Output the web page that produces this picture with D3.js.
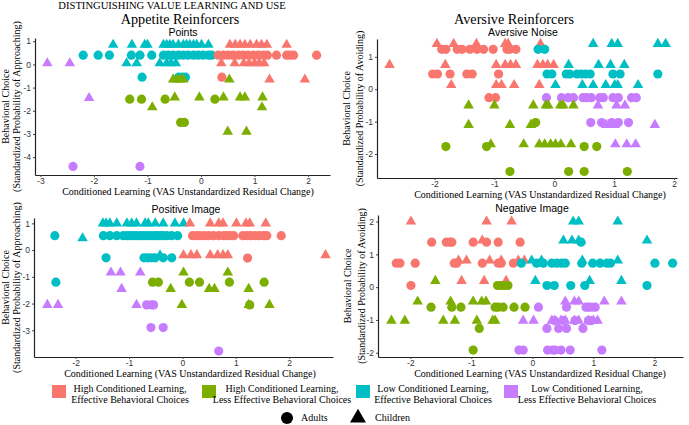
<!DOCTYPE html>
<html><head><meta charset="utf-8">
<script src="https://cdn.jsdelivr.net/npm/d3@7"></script>
<style>body{margin:0;background:#fff}svg{display:block}</style>
</head><body><svg id="c" width="689" height="425"></svg>
<script>
// groups: HE High/effective, HL High/less effective, LE Low/effective, LL Low/less effective
const groupNames = ["HE","HL","LE","LL"];
const groupColors = ["#F8766D","#7CAE00","#00BFC4","#C77CFF"];
const groupLabels = [["High Conditioned Learning,","Effective Behavioral Choices"],
  ["High Conditioned Learning,","Less Effective Behavioral Choices"],
  ["Low Conditioned Learning,","Effective Behavioral Choices"],
  ["Low Conditioned Learning,","Less Effective Behavioral Choices"]];
const ageLabels = ["Adults","Children"];

// each row: [learning, choice, group, age(A/C)]
const pointsData = [
 ...[-1.64,-1.29,-1.05,-1.0,-0.70,-0.64,-0.58,-0.52,-0.42,-0.33,-0.27,-0.21,-0.14,-0.08,0.01,0.14].map(x=>[x,0.85,"LE","C"]),
 ...[0.54,0.64,0.73,0.82,0.92,1.04,1.13,1.23,1.60].map(x=>[x,0.85,"HE","C"]),
 ...[-2.2,-1.92,-1.71,-1.30,-1.14,-0.92,-0.70,-0.61,-0.52,-0.42,-0.33,-0.24,-0.14,-0.05,0.04,0.14,0.2].map(x=>[x,0.4,"LE","A"]),
 ...[0.32,0.42,0.51,0.60,0.70,0.79,0.88,0.98,1.07,1.16,1.24,1.41,1.60,1.66,1.73,2.16].map(x=>[x,0.4,"HE","A"]),
 ...[-2.87,-2.45].map(x=>[x,0.05,"LL","C"]),
 ...[-1.39,-1.2,-0.77,-0.64,-0.56,-0.47].map(x=>[x,0.05,"LE","C"]),
 ...[0.38,0.63,0.80,0.90,1.0,1.09,1.18].map(x=>[x,0.05,"HE","C"]),
 ...[-1.1,-0.42,-0.35,-0.29].map(x=>[x,-0.55,"LE","A"]),
 [0.39,-0.55,"HE","A"],
 ...[-0.52,-0.45,-0.39,-0.33].map(x=>[x,-0.65,"HL","C"]),
 [0.53,-0.65,"HL","C"],
 ...[1.28,1.94].map(x=>[x,-0.65,"HE","C"]),
 [-2.09,-1.45,"LL","C"],
 ...[-1.33,-1.11,-0.67,0.26].map(x=>[x,-1.5,"HL","A"]),
 ...[-0.49,-0.03,0.42,0.73,0.82,1.15].map(x=>[x,-1.42,"HL","C"]),
 ...[-0.91,1.14].map(x=>[x,-1.85,"HL","C"]),
 ...[-0.38,-0.31].map(x=>[x,-2.5,"HL","A"]),
 ...[0.50,0.85].map(x=>[x,-2.9,"HL","C"]),
 ...[-2.39,-1.14].map(x=>[x,-4.4,"LL","A"])
];

const noiseData = [
 ...[-1.96,-1.68,-1.3,-0.82,-0.77,-0.23].map(x=>[x,1.4,"HE","C"]),
 ...[-1.88,-1.81,-1.62,-1.54,-1.41,-1.29,-1.18,-1.02,-0.79,-0.74,-0.64].map(x=>[x,1.23,"HE","A"]),
 ...[-0.27,-0.16].map(x=>[x,1.23,"LE","A"]),
 ...[0.65,0.96,1.06,1.73,1.86].map(x=>[x,1.4,"LE","C"]),
 ...[-2.75,-1.82,-0.97,-0.82,-0.73,-0.64,-0.28,-0.19,-0.11,-0.01].map(x=>[x,0.75,"HE","C"]),
 ...[0.24,0.74,0.94,1.17].map(x=>[x,0.75,"LE","C"]),
 ...[-2.03,-1.95,-1.74,-1.46,-1.37,-0.93].map(x=>[x,0.47,"HE","A"]),
 ...[-0.12,-0.04,0.2,0.26,0.38,0.45,0.52,0.6,0.98,1.1,1.73].map(x=>[x,0.47,"LE","A"]),
 ...[-1.72,-0.97,-0.88,-0.67,-0.25].map(x=>[x,0.13,"HE","C"]),
 ...[0.02,0.47,0.65,0.86,1.01,1.06,1.4].map(x=>[x,0.13,"LE","C"]),
 ...[-1.09,-0.98].map(x=>[x,-0.26,"HE","A"]),
 ...[-0.13,0.12,0.23,0.32,0.48,0.54,0.62,0.76,0.82,0.98,1.07,1.29,1.37].map(x=>[x,-0.26,"LL","A"]),
 ...[-1.43,-1.0,-0.35,-0.14,-0.1,0.1,0.15,0.32].map(x=>[x,-0.5,"HL","C"]),
 ...[0.73,1.04,1.18].map(x=>[x,-0.5,"LL","C"]),
 ...[0.61,0.79,0.96,1.07,1.24].map(x=>[x,-1.03,"LL","A"]),
 [-0.31,-1.03,"HL","A"],
 ...[-1.43,-0.74,-0.39].map(x=>[x,-1.1,"HL","C"]),
 ...[0.87,0.93,1.01,1.68].map(x=>[x,-1.1,"LL","C"]),
 ...[-1.81,-1.13,0.5,0.71].map(x=>[x,-1.77,"HL","A"]),
 ...[-1.06,-0.51,-0.25,-0.16,-0.06,0.02,0.11,0.28].map(x=>[x,-1.7,"HL","C"]),
 ...[1.02,1.21,1.36].map(x=>[x,-1.7,"LL","C"]),
 ...[-0.74,0.24,0.5,1.22].map(x=>[x,-2.54,"HL","A"])
];

const positiveData = [
 ...[-1.49,-1.43,-1.36,-1.23,-1.04,-0.95,-0.86,-0.7,-0.64,-0.51,-0.36,-0.14,0.02].map(x=>[x,1.0,"LE","C"]),
 ...[0.14,0.52,0.68,0.76,1.01,1.19,1.26,1.56].map(x=>[x,1.0,"HE","C"]),
 ...[-2.39,-1.48,-1.36,-1.23,-1.11,-1.04,-0.98,-0.92,-0.86,-0.79,-0.73,-0.67,-0.61,-0.54,-0.48,-0.42,-0.36,-0.29,-0.2,-0.09].map(x=>[x,0.54,"LE","A"]),
 ...[0.19,0.27,0.33,0.41,0.49,0.58,0.68,0.77,0.83,0.89,0.96,1.13,1.21,1.28,1.36,1.44,1.52,1.58,1.85].map(x=>[x,0.54,"HE","A"]),
 [-1.87,0.44,"LE","C"],
 ...[0.02,0.16,0.27,0.52,0.66,0.76,0.85,2.68].map(x=>[x,-0.19,"HE","C"]),
 ...[-1.43,-0.72,-0.65,-0.58,-0.51,-0.36,-0.2].map(x=>[x,-0.29,"LE","A"]),
 [-0.42,-0.2,"LE","C"],
 [1.22,-0.3,"HE","A"],
 ...[-1.34,-1.16,-0.79].map(x=>[x,-0.84,"LL","C"]),
 ...[0.02,0.85].map(x=>[x,-0.84,"HL","C"]),
 [-2.37,-1.2,"LE","A"],
 ...[-0.56,-0.45,0.13,0.32,0.88,1.53].map(x=>[x,-1.2,"HL","A"]),
 [-1.14,-1.45,"LL","C"],
 ...[-0.22,0.5,0.6,1.24].map(x=>[x,-1.45,"HL","C"]),
 ...[-2.53,-2.33,-0.86].map(x=>[x,-2.05,"LL","C"]),
 ...[-0.01,1.24,1.63].map(x=>[x,-2.05,"HL","C"]),
 [1.26,-2.05,"HL","A"],
 ...[-0.67,-0.58,-0.54].map(x=>[x,-2.05,"LL","A"]),
 ...[-0.59,-0.36].map(x=>[x,-2.9,"LL","A"]),
 [0.68,-3.78,"LL","A"]
];

const negativeData = [
 ...[-1.99,-0.75,-0.34].map(x=>[x,2.0,"HE","C"]),
 ...[0.67,0.76,1.40].map(x=>[x,2.0,"LE","C"]),
 ...[-1.65,-1.41,-1.35,-1.32,-0.97,-0.75,-0.56,-0.2].map(x=>[x,1.37,"HE","A"]),
 [-0.82,1.42,"HE","C"],
 ...[0.51,0.65,0.76,1.88].map(x=>[x,1.42,"LE","C"]),
 [0.8,1.37,"LE","A"],
 ...[-2.23,-2.17,-1.92,-1.28,-1.24,-0.82,-0.56,-0.51,-0.31].map(x=>[x,0.73,"HE","A"]),
 ...[-1.21,-1.08,-0.7,-0.51,-0.23,-0.13].map(x=>[x,0.81,"HE","C"]),
 ...[-0.18,0.07,0.18,0.32,0.4,0.48,0.54,0.81,0.99,1.11,1.22,1.28,2.01,2.3].map(x=>[x,0.73,"LE","A"]),
 ...[-0.01,0.15,0.82,1.4].map(x=>[x,0.81,"LE","C"]),
 [-1.99,0.05,"HE","A"],
 ...[-1.16,-0.79,-0.43].map(x=>[x,0.19,"HE","C"]),
 ...[-0.57,-0.51,-0.45,-0.4].map(x=>[x,0.05,"HL","A"]),
 [-1.59,0.19,"HL","C"],
 ...[0.05,0.94,1.46].map(x=>[x,0.19,"LE","C"]),
 ...[0.24,0.36,0.63,0.86,1.88].map(x=>[x,0.05,"LE","A"]),
 ...[-1.88,-1.34,-0.97,-0.83,-0.76].map(x=>[x,-0.44,"HL","C"]),
 ...[-1.66,-1.32,-1.17,-0.61,-0.56,-0.48,-0.3,-0.12].map(x=>[x,-0.61,"HL","A"]),
 ...[0.54,0.69,0.76,1.18,1.46].map(x=>[x,-0.44,"LL","C"]),
 ...[0.1,0.56,0.88,0.92,0.97,1.03].map(x=>[x,-0.61,"LL","A"]),
 ...[-2.31,-2.09,-1.46,-1.27,-0.91,-0.65,-0.61].map(x=>[x,-1.02,"HL","C"]),
 ...[-0.15,0.02,0.32,0.37,0.47,0.54,0.69,0.76,0.92,1.0,1.07].map(x=>[x,-1.02,"LL","C"]),
 ...[0.36,0.51,0.7,0.92,0.97].map(x=>[x,-1.02,"LL","A"]),
 [-0.87,-1.26,"HL","A"],
 ...[0.24,0.43,0.56,0.83].map(x=>[x,-1.26,"LL","A"]),
 [-0.97,-1.92,"HL","A"],
 ...[-0.22,-0.15,0.25,0.33,0.37,0.47,0.62,1.14].map(x=>[x,-1.92,"LL","A"])
];

const pointsYTicks = [1,0,-1,-2,-3,-4];
const noiseYTicks = [1,0,-1,-2];
const positiveYTicks = [1,0,-1,-2,-3];
const negativeYTicks = [2,1,0,-1,-2];
const pointsXTicks = [-3,-2,-1,0,1,2];
const noiseXTicks = [-2,-1,0,1,2];
const positiveXTicks = [-2,-1,0,1,2];
const negativeXTicks = [-2,-1,0,1,2];

const xTitle = "Conditioned Learning (VAS Unstandardized Residual Change)";

const panels = [
 {title:"Points", data:pointsData, xd:[-3.1,2.41], xr:[35,330], yd:[1.14,-4.77], yr:[38,175], xt:pointsXTicks, yt:pointsYTicks, yl:"(Standardized Probability of Approaching)", lx:[9,20], tx:183, ty:36, xtx:188},
 {title:"Aversive Noise", data:noiseData, xd:[-2.96,2.05], xr:[377,677], yd:[1.55,-2.74], yr:[39,178], xt:noiseXTicks, yt:noiseYTicks, yl:"(Standardized Probability of Avoiding)", lx:[350,363], tx:523, ty:36, xtx:540},
 {title:"Positive Image", data:positiveData, xd:[-2.78,2.82], xr:[34,333], yd:[1.2,-4.0], yr:[218,357], xt:positiveXTicks, yt:positiveYTicks, yl:"(Standardized Probability of Approaching)", lx:[9,20], tx:186, ty:213, xtx:190},
 {title:"Negative Image", data:negativeData, xd:[-2.53,2.47], xr:[378,683], yd:[2.2,-2.13], yr:[215,357], xt:negativeXTicks, yt:negativeYTicks, yl:"(Standardized Probability of Avoiding)", lx:[351,365], tx:532, ty:212, xtx:540}
];

const svg = d3.select("#c");
const color = d3.scaleOrdinal().domain(groupNames).range(groupColors);
const tri = d3.symbol().type(d3.symbolTriangle).size(48);
const serif = "'Liberation Serif','Times New Roman',serif";
const sans = "'Liberation Sans',Arial,sans-serif";

svg.append("text").attr("x",172).attr("y",8.5).attr("text-anchor","middle")
  .attr("font-family",serif).attr("font-size",10.6).text("DISTINGUISHING VALUE LEARNING AND USE");
svg.append("text").attr("x",180).attr("y",23.5).attr("text-anchor","middle")
  .attr("font-family",serif).attr("font-size",14.2).text("Appetite Reinforcers");
svg.append("text").attr("x",514).attr("y",23.5).attr("text-anchor","middle")
  .attr("font-family",serif).attr("font-size",14.2).text("Aversive Reinforcers");

panels.forEach(p=>{
  const x = d3.scaleLinear().domain(p.xd).range(p.xr);
  const y = d3.scaleLinear().domain(p.yd).range(p.yr);
  const g = svg.append("g");
  const xa = g.append("g").attr("transform",`translate(0,${p.yr[1]})`)
    .call(d3.axisBottom(x).tickValues(p.xt).tickSize(2).tickPadding(1).tickSizeOuter(0).tickFormat(d=>String(d)));
  const ya = g.append("g").attr("transform",`translate(${p.xr[0]},0)`)
    .call(d3.axisLeft(y).tickValues(p.yt).tickSize(2).tickPadding(2).tickSizeOuter(0).tickFormat(d=>String(d)));
  [xa,ya].forEach(a=>{
    a.select(".domain").attr("stroke","#222").attr("stroke-width",1.2);
    a.selectAll(".tick line").attr("stroke","#444");
    a.selectAll(".tick text").attr("font-family",sans).attr("font-size",8.5).attr("fill","#333");
  });
  g.append("text").attr("x",p.tx).attr("y",p.ty).attr("text-anchor","middle")
    .attr("font-family",sans).attr("font-size",10.5).text(p.title);
  g.append("text").attr("x",p.xtx).attr("y",p.yr[1]+20).attr("text-anchor","middle")
    .attr("font-family",serif).attr("font-size",10).text(xTitle);
  const cy = (p.yr[0]+p.yr[1])/2;
  g.append("text").attr("transform",`translate(${p.lx[0]},${cy}) rotate(-90)`).attr("text-anchor","middle")
    .attr("font-family",serif).attr("font-size",10).text("Behavioral Choice");
  g.append("text").attr("transform",`translate(${p.lx[1]},${cy}) rotate(-90)`).attr("text-anchor","middle")
    .attr("font-family",serif).attr("font-size",10).text(p.yl);
  const pts = g.append("g");
  p.data.forEach(d=>{
    if(d[3]==="A"){
      pts.append("circle").attr("cx",x(d[0])).attr("cy",y(d[1])).attr("r",4.6).attr("fill",color(d[2]));
    } else {
      pts.append("path").attr("d",tri).attr("transform",`translate(${x(d[0])},${y(d[1])})`).attr("fill",color(d[2]));
    }
  });
});

// legend
const legX = [52,202,356,504];
const legTextX = [130,282,433,587];
const leg = svg.append("g");
groupNames.forEach((gname,i)=>{
  leg.append("rect").attr("x",legX[i]).attr("y",385).attr("width",14).attr("height",13).attr("fill",groupColors[i]);
  groupLabels[i].forEach((t,j)=>{
    leg.append("text").attr("x",legTextX[i]).attr("y",392+j*11).attr("text-anchor","middle")
      .attr("font-family",serif).attr("font-size",10).text(t);
  });
});
leg.append("circle").attr("cx",287).attr("cy",418).attr("r",6).attr("fill","#000");
leg.append("text").attr("x",301).attr("y",421).attr("font-family",serif).attr("font-size",10).text(ageLabels[0]);
leg.append("path").attr("d",d3.symbol().type(d3.symbolTriangle).size(110)).attr("transform","translate(358,418)").attr("fill","#000");
leg.append("text").attr("x",375).attr("y",421).attr("font-family",serif).attr("font-size",10).text(ageLabels[1]);
</script></body></html>
